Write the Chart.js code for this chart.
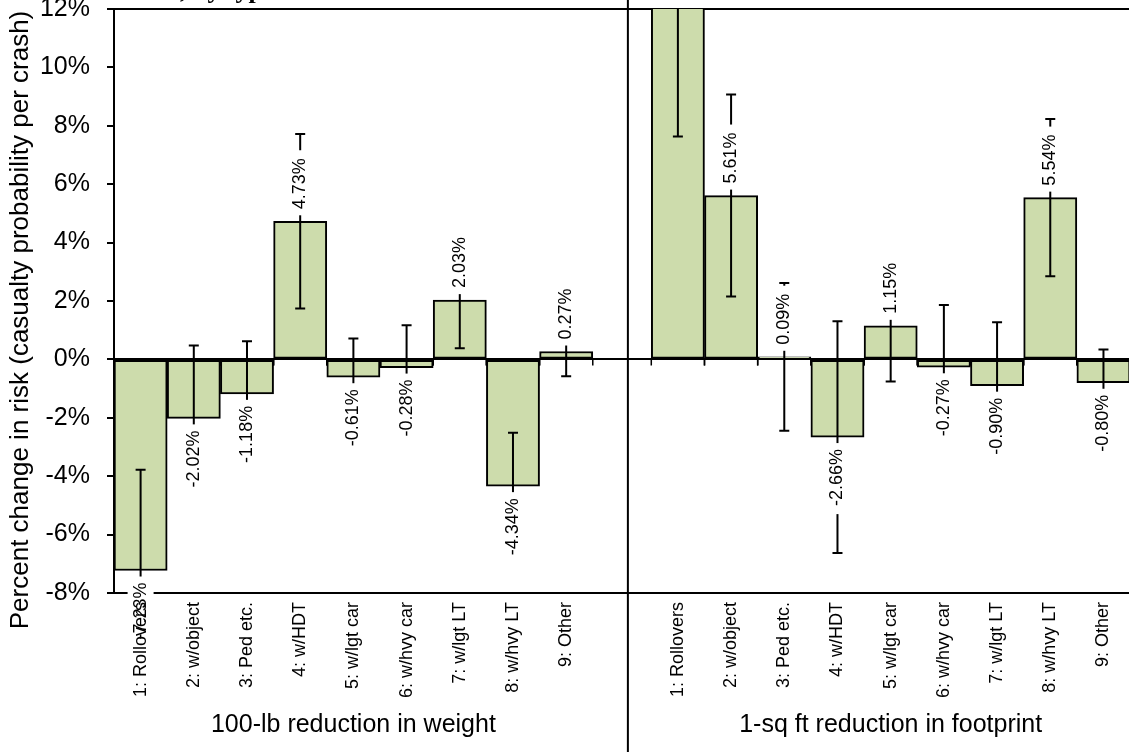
<!DOCTYPE html>
<html>
<head>
<meta charset="utf-8">
<title>Percent change in risk by crash type</title>
<script src="https://cdn.jsdelivr.net/npm/chart.js@4.4.1/dist/chart.umd.min.js"></script>
<style>
  html, body { margin: 0; padding: 0; background: #fff; overflow: hidden; }
  #chart { display: block; }
</style>
</head>
<body>
<canvas id="chart" width="1129" height="752"></canvas>
<script>
// ---- data ----
const categories = ['1: Rollovers', '2: w/object', '3: Ped etc.', '4: w/HDT', '5: w/lgt car',
                    '6: w/hvy car', '7: w/lgt LT', '8: w/hvy LT', '9: Other'];
const weightValues    = [-7.23, -2.02, -1.18, 4.73, -0.61, -0.28, 2.03, -4.34, 0.27];
const weightErrors    = [3.45, 2.50, 1.80, 2.99, 1.33, 1.45, 1.65, 1.83, 0.85];
const footprintValues = [12.8, 5.61, 0.09, -2.66, 1.15, -0.27, -0.90, 5.54, -0.80];
const footprintErrors = [5.17, 3.46, 2.53, 3.97, 1.91, 2.13, 2.17, 2.69, 1.14];
const groupTitles = ['100-lb reduction in weight', '1-sq ft reduction in footprint'];
const yAxisTitle = 'Percent change in risk (casualty probability per crash)';
const captionTail = ', by type';

const Y_MIN = -8, Y_MAX = 12, Y_STEP = 2;

// layout of the two panels on one category-unit x axis
const GROUP_GAP = 10.1;    // second panel starts this many units after the first
const DIVIDER_AT = 10.16;  // panel separator
const X_MIN = 0.5, X_MAX = 19.58;

const FONT = '"Liberation Sans", Arial, sans-serif';
const BAR_FILL = '#cddcac';

const weightPoints = weightValues.map((v, i) => ({ x: i + 1, y: v }));
const footprintPoints = footprintValues.map((v, i) => ({ x: i + 1 + GROUP_GAP, y: v }));

// error bars, value labels, category labels, titles, separator
const panelPlugin = {
  id: 'panels',
  afterDatasetsDraw(chart) {
    const { ctx, chartArea: area, scales: { y } } = chart;
    const y0 = y.getPixelForValue(0);

    // error bars + small ticks on the zero axis (clipped to plot)
    ctx.save();
    ctx.beginPath();
    ctx.rect(area.left, area.top, area.right - area.left, area.bottom - area.top);
    ctx.clip();
    ctx.strokeStyle = '#000';
    chart.data.datasets.forEach((ds, di) => {
      chart.getDatasetMeta(di).data.forEach((bar, i) => {
        const v = ds.data[i].y, e = ds.errors[i];
        const hi = y.getPixelForValue(v + e), lo = y.getPixelForValue(v - e);
        ctx.lineWidth = 2;
        ctx.beginPath();
        ctx.moveTo(bar.x, hi); ctx.lineTo(bar.x, lo);
        ctx.moveTo(bar.x - 5, hi); ctx.lineTo(bar.x + 5, hi);
        ctx.moveTo(bar.x - 5, lo); ctx.lineTo(bar.x + 5, lo);
        ctx.stroke();
        const half = bar.width / 2;
        ctx.lineWidth = 1.5;
        ctx.beginPath();
        ctx.moveTo(bar.x - half, y0); ctx.lineTo(bar.x - half, y0 + 6);
        ctx.moveTo(bar.x + half, y0); ctx.lineTo(bar.x + half, y0 + 6);
        ctx.stroke();
      });
    });
    ctx.restore();

    // value labels on white boxes
    ctx.save();
    ctx.font = '18px ' + FONT;
    chart.data.datasets.forEach((ds, di) => {
      chart.getDatasetMeta(di).data.forEach((bar, i) => {
        const v = ds.data[i].y;
        const text = v.toFixed(2) + '%';
        const w = ctx.measureText(text).width;
        const up = v >= 0;
        const start = up ? bar.y - 12 : bar.y + 12;
        const boxTop = up ? start - w - 8 : start - 6;
        ctx.fillStyle = '#fff';
        ctx.fillRect(bar.x - 13, boxTop, 26, w + 14);
        ctx.save();
        ctx.translate(bar.x, start);
        ctx.rotate(-Math.PI / 2);
        ctx.fillStyle = '#000';
        ctx.textAlign = up ? 'left' : 'right';
        ctx.textBaseline = 'middle';
        ctx.fillText(text, 0, 0);
        ctx.restore();
      });
    });
    ctx.restore();
  },
  afterDraw(chart) {
    const { ctx, chartArea: area, scales: { x } } = chart;
    ctx.save();
    ctx.fillStyle = '#000';

    // category labels under each panel
    ctx.font = '18px ' + FONT;
    chart.data.datasets.forEach((ds, di) => {
      chart.getDatasetMeta(di).data.forEach((bar, i) => {
        ctx.save();
        ctx.translate(bar.x, area.bottom + 9);
        ctx.rotate(-Math.PI / 2);
        ctx.textAlign = 'right';
        ctx.textBaseline = 'middle';
        ctx.fillText(categories[i], 0, 0);
        ctx.restore();
      });
    });

    // panel titles
    ctx.font = '25px ' + FONT;
    ctx.textAlign = 'center';
    ctx.textBaseline = 'alphabetic';
    ctx.fillText(groupTitles[0], x.getPixelForValue(5), area.bottom + 139);
    ctx.fillText(groupTitles[1], x.getPixelForValue(5 + GROUP_GAP), area.bottom + 139);

    // y axis title
    ctx.save();
    ctx.font = '26px ' + FONT;
    ctx.translate(28, (area.top + area.bottom) / 2 + 19);
    ctx.rotate(-Math.PI / 2);
    ctx.textAlign = 'center';
    ctx.fillText(yAxisTitle, 0, 0);
    ctx.restore();

    // tail of the figure caption, cut off by the top edge
    ctx.font = 'bold 26px "Liberation Serif", "Times New Roman", serif';
    ctx.textAlign = 'left';
    ctx.fillText(captionTail, 180, -2);

    // separator between the two panels
    const dx = x.getPixelForValue(DIVIDER_AT);
    ctx.strokeStyle = '#000';
    ctx.lineWidth = 2;
    ctx.beginPath();
    ctx.moveTo(dx, 0);
    ctx.lineTo(dx, chart.height);
    ctx.stroke();
    ctx.restore();
  }
};

const barStyle = {
  backgroundColor: BAR_FILL,
  borderColor: '#000',
  borderWidth: 2,
  borderSkipped: false,
  barPercentage: 1,
  categoryPercentage: 1,
  grouped: false
};

new Chart(document.getElementById('chart'), {
  type: 'bar',
  data: {
    datasets: [
      Object.assign({ label: groupTitles[0], data: weightPoints, errors: weightErrors }, barStyle),
      Object.assign({ label: groupTitles[1], data: footprintPoints, errors: footprintErrors }, barStyle)
    ]
  },
  options: {
    responsive: false,
    animation: false,
    devicePixelRatio: 1,
    layout: { padding: { top: 9, left: 0, right: 0, bottom: 0 } },
    plugins: { legend: { display: false }, tooltip: { enabled: false } },
    scales: {
      x: {
        type: 'linear',
        offset: false,
        min: X_MIN,
        max: X_MAX,
        ticks: { display: false, stepSize: 1, includeBounds: false },
        grid: { display: false, offset: false },
        border: { display: false },
        afterFit(s) { s.height = 159; s.paddingLeft = 0; s.paddingRight = 0; }
      },
      y: {
        min: Y_MIN,
        max: Y_MAX,
        ticks: {
          stepSize: Y_STEP,
          color: '#000',
          padding: 17,
          font: { family: FONT, size: 25 },
          callback: v => v + '%'
        },
        grid: {
          color: c => (c.tick && [0, Y_MIN, Y_MAX].includes(c.tick.value)) ? '#000' : 'rgba(0,0,0,0)',
          lineWidth: 2,
          tickColor: '#000',
          tickLength: 7,
          tickWidth: 2
        },
        border: { display: true, color: '#000', width: 2 },
        afterFit(s) { s.width = 114; s.paddingTop = 0; s.paddingBottom = 0; }
      }
    }
  },
  plugins: [panelPlugin]
});
</script>
</body>
</html>
